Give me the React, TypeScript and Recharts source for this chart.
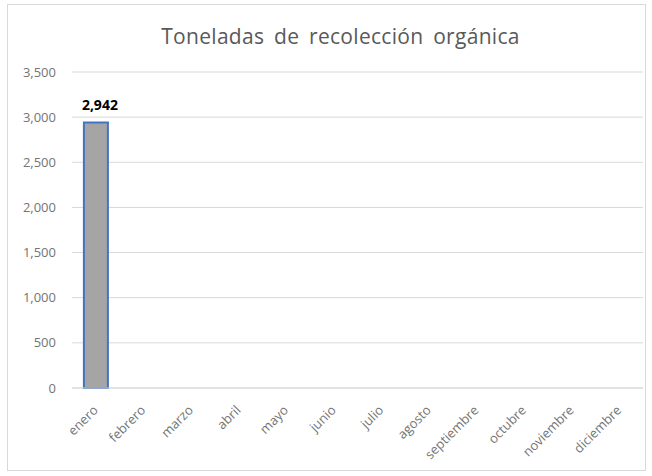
import { BarChart, Bar, XAxis, YAxis, CartesianGrid, LabelList } from "recharts";

const months = [
  "enero",
  "febrero",
  "marzo",
  "abril",
  "mayo",
  "junio",
  "julio",
  "agosto",
  "septiembre",
  "octubre",
  "noviembre",
  "diciembre",
];
const toneladas: (number | null)[] = [2942, null, null, null, null, null, null, null, null, null, null, null];
const yTicks = [0, 500, 1000, 1500, 2000, 2500, 3000, 3500];

const data = months.map((m, i) => ({ name: m, value: toneladas[i] }));

const fmt = (v: number) => v.toLocaleString("en-US");
const font = "'Open Sans', 'Noto Sans', sans-serif";
const tickGrey = "#747474";

// rotated month label, anchored at its end on the tick
const MonthTick = (props: any) => {
  const { x, y, payload } = props;
  const ax = x + 3;
  const ay = y + 15;
  return (
    <text
      x={ax}
      y={ay}
      transform={`rotate(-45, ${ax}, ${ay})`}
      textAnchor="end"
      fill={tickGrey}
      fontSize={13}
      fontFamily={font}
    >
      {payload.value}
    </text>
  );
};

export default function App() {
  return (
    <div
      style={{
        position: "fixed",
        left: 0,
        top: 0,
        width: 652,
        height: 476,
        background: "#fff",
        fontFamily: font,
      }}
    >
      <div
        style={{
          position: "absolute",
          left: 7,
          top: 4,
          width: 637,
          height: 465,
          border: "1px solid #d9d9d9",
        }}
      >
        <div
          style={{
            position: "absolute",
            left: 0,
            width: "100%",
            top: 17,
            textAlign: "center",
            fontSize: 21,
            wordSpacing: 4,
            letterSpacing: 0.3,
            color: "#595959",
            paddingLeft: 28,
            boxSizing: "border-box",
          }}
        >
          Toneladas de recolección orgánica
        </div>
        <BarChart
          width={637}
          height={465}
          data={data}
          margin={{ top: 67, right: 2, left: 0, bottom: 0 }}
          barCategoryGap="25%"
        >
          <CartesianGrid vertical={false} stroke="#d9d9d9" />
          <XAxis
            dataKey="name"
            interval={0}
            height={82}
            axisLine={{ stroke: "#d9d9d9" }}
            tickLine={false}
            tick={<MonthTick />}
          />
          <YAxis
            width={64}
            domain={[0, 3500]}
            ticks={yTicks}
            tickFormatter={fmt}
            axisLine={false}
            tickLine={false}
            tickMargin={10}
            tick={{ fill: tickGrey, fontSize: 13, fontFamily: font }}
          />
          <Bar
            dataKey="value"
            fill="#a5a5a5"
            stroke="#4472c4"
            strokeWidth={2}
            isAnimationActive={false}
          >
            <LabelList
              dataKey="value"
              position="top"
              offset={12}
              dx={4}
              formatter={(v: any) => (v == null ? "" : fmt(v))}
              style={{ fill: "#000", fontSize: 14, fontWeight: 700, fontFamily: font }}
            />
          </Bar>
        </BarChart>
      </div>
    </div>
  );
}
